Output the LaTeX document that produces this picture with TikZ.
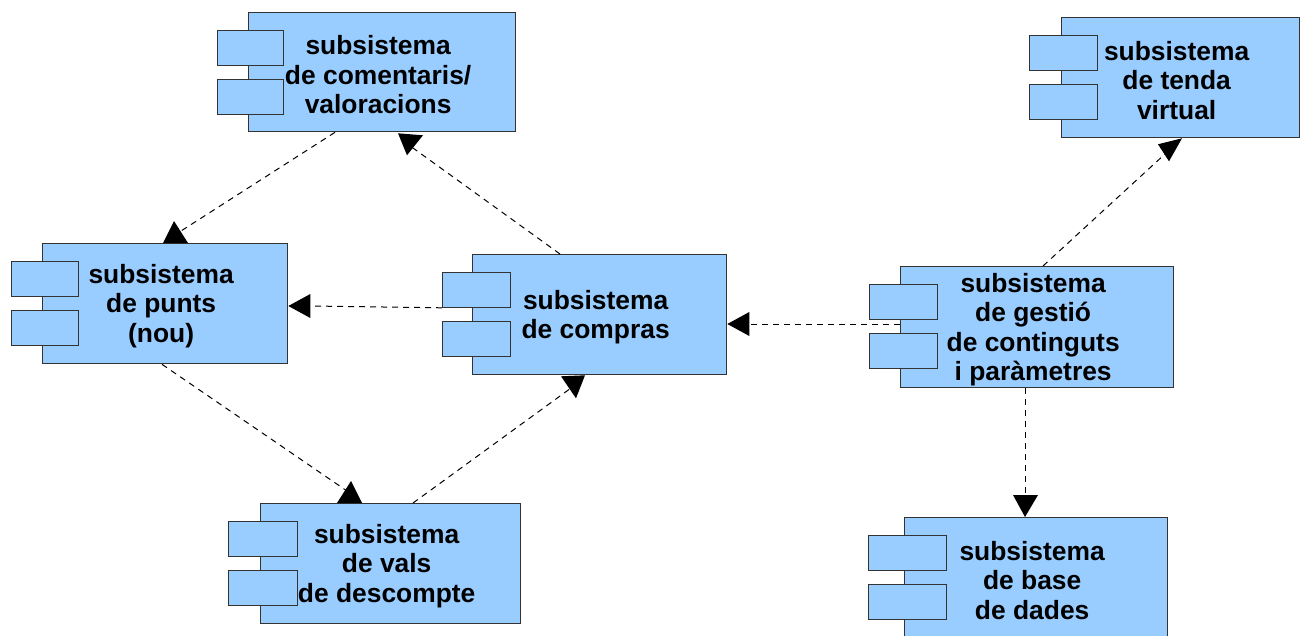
\documentclass[tikz,border=0pt]{standalone}
\usepackage{fontspec}
\setmainfont{Liberation Sans}
\usetikzlibrary{calc}
\definecolor{compfill}{HTML}{99CCFF}
\definecolor{compline}{HTML}{333333}
\tikzset{
  mainbox/.style={draw=compline, fill=compfill, line width=1.3pt, inner sep=0pt,
    anchor=north west},
  labeltext/.style={inner sep=0pt, align=center,
    font=\fontsize{26.4}{29.5}\selectfont\bfseries},
  portbox/.style={draw=compline, fill=compfill, line width=1.3pt, inner sep=0pt,
    anchor=north west, minimum height=34.5pt},
  dep/.style={black, line width=1pt, dash pattern=on 6pt off 5pt},
  head/.style={fill=black},
}
% component: name, left, top, width, height, port x offset, port width, label
\newcommand\subsys[8]{%
  \node[mainbox, minimum width=#4pt, minimum height=#5pt] (#1) at (#2,#3) {};
  \node[labeltext] (#1-t) at ($(#1.center)+(-4,2.5)$) {#8};
  \node[portbox, minimum width=#7pt] (#1-p1) at ($(#1.north west)+(#6,18)$) {};
  \node[portbox, minimum width=#7pt] (#1-p2) at ($(#1.north west)+(#6,67)$) {};
}
\begin{document}
\begin{tikzpicture}[x=1pt, y=-1pt]
\useasboundingbox (0,0) rectangle (1306,635);

\subsys{com}{248}{12}{267}{119}{-31}{66}{subsistema\\de comentaris/\\valoracions}
\subsys{pun}{42}{243}{245}{120}{-31}{67}{subsistema\\de punts\\(nou)}
\subsys{cmp}{472}{254}{254}{120}{-30}{67.5}{subsistema\\de compras}
\subsys{ges}{900}{266}{273}{121}{-31}{67.5}{subsistema\\de gestió\\de continguts\\i paràmetres}
\subsys{ten}{1061}{17}{238}{120}{-32}{68}{subsistema\\de tenda\\virtual}
\subsys{val}{260}{503}{260}{120}{-32}{68.5}{subsistema\\de vals\\de descompte}
\subsys{bd}{904}{517}{263}{120}{-36}{78}{subsistema\\de base\\de dades}

% comentaris -> punts
\draw[dep] ($(com.south west)+(87,0)$) -- ($(pun.north west)+(139,-12)$);
\fill[head] ($(pun.north west)+(132,-22)$) -- ($(pun.north west)+(121,0)$)
  -- ($(pun.north west)+(146,0)$) -- cycle;

% compras -> comentaris
\draw[dep] ($(cmp.north west)+(88,0)$) -- ($(com.south west)+(164,15)$);
\fill[head] ($(com.south west)+(150,1)$) -- ($(com.south west)+(175,3)$)
  -- ($(com.south west)+(159,23)$) -- cycle;

% compras -> punts
\draw[dep] (cmp-p1.south west) -- ($(pun.north east)+(22,63)$);
\fill[head] ($(pun.north east)+(0,63)$) -- ($(pun.north east)+(22,51)$)
  -- ($(pun.north east)+(22,75)$) -- cycle;

% punts -> vals
\draw[dep] ($(pun.south west)+(120,0)$) -- ($(val.north west)+(87,-12)$);
\fill[head] ($(val.north west)+(91,-22)$) -- ($(val.north west)+(77,0)$)
  -- ($(val.north west)+(102,0)$) -- cycle;

% vals -> compras
\draw[dep] ($(val.north west)+(153,0)$) -- ($(cmp.south west)+(100,12)$);
\fill[head] ($(cmp.south west)+(89,1)$) -- ($(cmp.south west)+(113,0)$)
  -- ($(cmp.south west)+(104,23)$) -- cycle;

% gestio -> compras
\draw[dep] ($(ges.north west)+(0,58)$) -- ($(cmp.north east)+(22,70)$);
\fill[head] ($(cmp.north east)+(0,70)$) -- ($(cmp.north east)+(22,58)$)
  -- ($(cmp.north east)+(22,82)$) -- cycle;

% gestio -> tenda
\draw[dep] ($(ges.north west)+(143,0)$) -- ($(ten.south west)+(108,12)$);
\fill[head] ($(ten.south west)+(97,6)$) -- ($(ten.south west)+(121,0)$)
  -- ($(ten.south west)+(108,23)$) -- cycle;

% gestio -> base de dades
\draw[dep] ($(ges.south west)+(125,0)$) -- ($(bd.north west)+(121,-22)$);
\fill[head] ($(bd.north west)+(121,0)$) -- ($(bd.north west)+(109,-22)$)
  -- ($(bd.north west)+(134,-22)$) -- cycle;
\end{tikzpicture}
\end{document}
